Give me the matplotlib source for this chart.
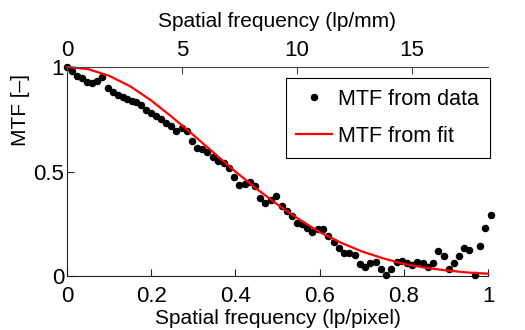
import matplotlib
matplotlib.use("Agg")
import matplotlib.pyplot as plt

plt.rcParams['font.family'] = ['Liberation Sans', 'DejaVu Sans']

# Measured MTF samples (normalised frequency in lp/pixel)
freq_data = [0.000, 0.011, 0.023, 0.035, 0.047, 0.059, 0.071, 0.084, 0.098, 0.110,
             0.122, 0.132, 0.143, 0.154, 0.164, 0.175, 0.188, 0.199, 0.211, 0.223,
             0.235, 0.246, 0.259, 0.272, 0.284, 0.296, 0.309, 0.320, 0.333, 0.346,
             0.359, 0.372, 0.385, 0.397, 0.409, 0.422, 0.435, 0.447, 0.458, 0.471,
             0.484, 0.496, 0.510, 0.522, 0.534, 0.546, 0.559, 0.571, 0.583, 0.596,
             0.608, 0.621, 0.634, 0.646, 0.658, 0.670, 0.683, 0.696, 0.708, 0.720,
             0.733, 0.746, 0.758, 0.770, 0.783, 0.795, 0.807, 0.820, 0.832, 0.845,
             0.857, 0.870, 0.882, 0.895, 0.907, 0.919, 0.932, 0.944, 0.956, 0.969,
             0.982, 0.994, 1.006]
mtf_data = [1.000, 0.982, 0.957, 0.946, 0.930, 0.922, 0.934, 0.954, 0.900, 0.882,
            0.866, 0.855, 0.845, 0.839, 0.834, 0.818, 0.794, 0.778, 0.766, 0.750,
            0.734, 0.718, 0.695, 0.707, 0.692, 0.647, 0.611, 0.610, 0.592, 0.570,
            0.552, 0.542, 0.515, 0.475, 0.435, 0.440, 0.451, 0.431, 0.374, 0.348,
            0.366, 0.382, 0.335, 0.310, 0.287, 0.252, 0.250, 0.228, 0.212, 0.223,
            0.225, 0.191, 0.164, 0.132, 0.111, 0.110, 0.099, 0.058, 0.042, 0.062,
            0.067, 0.033, 0.007, 0.034, 0.066, 0.070, 0.062, 0.055, 0.066, 0.064,
            0.044, 0.062, 0.120, 0.098, 0.032, 0.061, 0.098, 0.132, 0.124, 0.007,
            0.144, 0.232, 0.292]

# Fitted MTF curve
freq_fit = [0.00, 0.05, 0.10, 0.15, 0.20, 0.25, 0.30, 0.35, 0.40, 0.45, 0.50,
            0.55, 0.60, 0.65, 0.70, 0.75, 0.80, 0.85, 0.90, 0.95, 1.00]
mtf_fit = [1.000, 0.990, 0.958, 0.908, 0.840, 0.760, 0.675, 0.587, 0.500, 0.418,
           0.342, 0.273, 0.210, 0.160, 0.118, 0.085, 0.058, 0.040, 0.027, 0.017,
           0.011]

# Conversion lp/pixel -> lp/mm
lpmm_per_lppix = 18.3

bottom_ticks = [0, 0.2, 0.4, 0.6, 0.8, 1]
bottom_labels = ['0', '0.2', '0.4', '0.6', '0.8', '1']
top_ticks = [0, 5, 10, 15]
y_ticks = [0, 0.5, 1]
y_labels = ['0', '0.5', '1']

W, H = 525, 330
fig = plt.figure(figsize=(W / 100, H / 100), dpi=100)
ax = fig.add_axes([67 / W, 1 - 276 / H, 421 / W, 209 / H])

ax.plot(freq_data, mtf_data, 'o', color='black', markersize=4.4,
        clip_on=False, zorder=3, label='MTF from data')
ax.plot(freq_fit, mtf_fit, '-', color='#ff0000', linewidth=1.6,
        clip_on=False, zorder=4, label='MTF from fit')

ax.set_xlim(0, 1)
ax.set_ylim(0, 1)
ax.set_xticks(bottom_ticks)
ax.set_xticklabels(bottom_labels)
ax.set_yticks(y_ticks)
ax.set_yticklabels(y_labels)
ax.tick_params(direction='in', length=5, width=0.8, labelsize=16,
               colors='#222222', labelcolor='black')
ax.tick_params(axis='x', pad=7)
ax.tick_params(axis='y', pad=2)
ax.spines['top'].set_visible(False)
ax.spines['right'].set_visible(False)
for s in ('left', 'bottom'):
    ax.spines[s].set_color('#222222')
    ax.spines[s].set_linewidth(0.8)

ax.set_xlabel('Spatial frequency (lp/pixel)', fontsize=15, labelpad=2)

# Secondary top axis in lp/mm
ax2 = ax.twiny()
ax2.set_xlim(0, lpmm_per_lppix)
ax2.set_xticks(top_ticks)
ax2.tick_params(direction='in', length=5, width=0.8, labelsize=16, pad=4,
                colors='#444444', labelcolor='black')
for s in ('bottom', 'left', 'right'):
    ax2.spines[s].set_visible(False)
ax2.spines['top'].set_color('#444444')
ax2.spines['top'].set_linewidth(0.8)
ax2.set_xlabel('Spatial frequency (lp/mm)', fontsize=15, labelpad=10)

fig.text(20 / W, 1 - 110 / H, 'MTF [\u2013]', rotation=90, fontsize=15,
         ha='center', va='center')

leg = ax.legend(loc='upper right', bbox_to_anchor=(490 / W, 1 - 78 / H),
                bbox_transform=fig.transFigure, borderaxespad=0,
                fancybox=False, framealpha=1, edgecolor='black',
                fontsize=15.5, handlelength=1.65, handletextpad=0.3,
                borderpad=0.5, labelspacing=0.75)
leg.get_frame().set_linewidth(0.8)

fig.savefig('out.png', dpi=100)
